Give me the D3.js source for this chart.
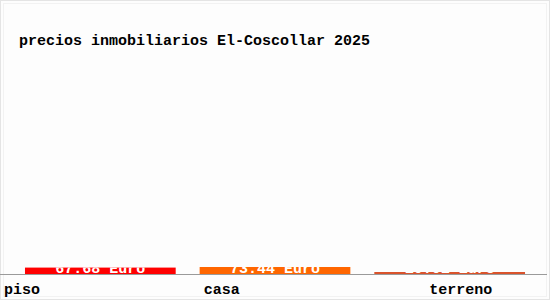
<!DOCTYPE html>
<html lang='es'>
<head>
  <title>precios inmobiliarios</title>
  <script src='https://cdn.jsdelivr.net/npm/d3@7'></script>
  <style>
    body { margin: 0; background: #fff; }
  </style>
</head>
<body>
  <script>
    // chart data
    const categories = ["piso", "casa", "terreno"];
    const prices = [67.68, 73.44, 10.01];
    const priceLabels = ["67.68 Euro", "73.44 Euro", "10.01 Euro"];
    const barColors = ["#ff0000", "#ff6600", "#d9532c"];
    const labelShift = [-21, 4, 55]; // where the category names sit relative to their band

    createBarChart();

    function createBarChart() {
      let width = 550, height = 300;
      let font = "'Liberation Mono', monospace";
      let svg = d3.select("body").append("svg")
        .attr("width", width)
        .attr("height", height);

      // frame
      svg.append("rect")
        .attr("x", 0.5).attr("y", 0.5)
        .attr("width", width - 1).attr("height", height - 1)
        .attr("fill", "#fdfdfd")
        .attr("stroke", "#e4e4e4");
      svg.append("rect")
        .attr("x", 3.5).attr("y", 3.5)
        .attr("width", width - 7).attr("height", height - 7)
        .attr("fill", "none")
        .attr("stroke", "#f2f2f2");

      // title
      svg.append("text")
        .attr("x", 19).attr("y", 45)
        .attr("font-family", font)
        .attr("font-size", 15)
        .attr("font-weight", "bold")
        .attr("fill", "#000")
        .text("precios inmobiliarios El-Coscollar 2025");

      let baseY = 274.5;
      let xScale = d3.scaleBand()
        .domain(categories)
        .range([12.5, 537.5])
        .paddingInner(24 / 175)
        .paddingOuter(12.5 / 175);
      let yScale = d3.scaleLinear()
        .domain([0, 2100])
        .range([baseY, 60]);

      let rows = categories.map((c, i) => ({ name: c, value: prices[i], label: priceLabels[i], color: barColors[i], dx: labelShift[i] }));

      let barTop = d => Math.min(yScale(d.value), baseY - 2.5);

      let bars = svg.append("g");
      bars.selectAll("rect").data(rows).join("rect")
        .attr("x", d => xScale(d.name))
        .attr("width", xScale.bandwidth())
        .attr("y", barTop)
        .attr("height", d => baseY - barTop(d))
        .attr("fill", d => d.color);

      // value labels, white, only visible on the bars
      let clip = svg.append("defs").append("clipPath").attr("id", "barclip");
      clip.selectAll("rect").data(rows).join("rect")
        .attr("x", d => xScale(d.name))
        .attr("width", xScale.bandwidth())
        .attr("y", barTop)
        .attr("height", d => baseY - barTop(d));
      svg.append("g").attr("clip-path", "url(#barclip)")
        .selectAll("text").data(rows).join("text")
        .attr("x", d => xScale(d.name) + xScale.bandwidth() / 2)
        .attr("y", baseY - 1.5)
        .attr("text-anchor", "middle")
        .attr("font-family", font)
        .attr("font-size", 15)
        .attr("font-weight", "bold")
        .attr("fill", "#fff")
        .text(d => d.label);

      // axis line
      svg.append("line")
        .attr("x1", 0).attr("x2", 547)
        .attr("y1", baseY).attr("y2", baseY)
        .attr("stroke", "#9a9a9a");

      // category names
      svg.append("g").selectAll("text").data(rows).join("text")
        .attr("x", d => xScale(d.name) + d.dx)
        .attr("y", 294)
        .attr("font-family", font)
        .attr("font-size", 15)
        .attr("font-weight", "bold")
        .attr("fill", "#000")
        .text(d => d.name);
    }
  </script>
</body>
</html>
